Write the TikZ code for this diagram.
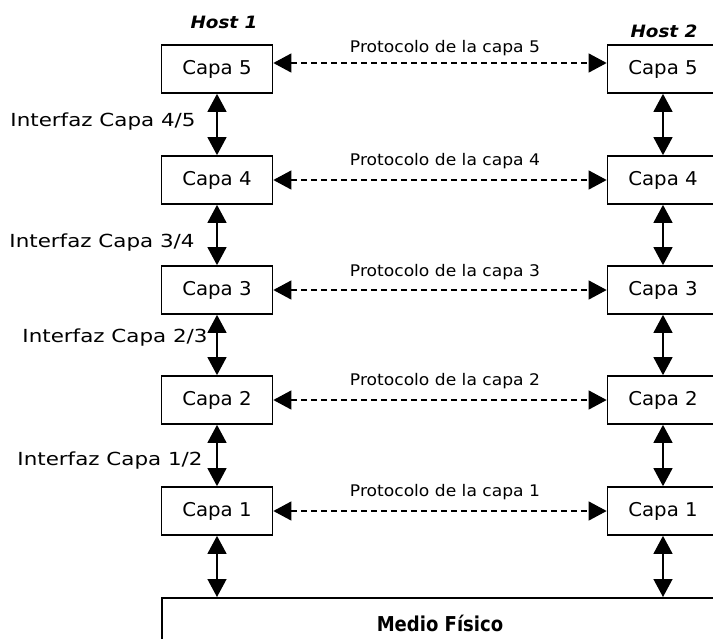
\documentclass[tikz,border=0pt]{standalone}
\usepackage{fontspec}
\setmainfont{DejaVu Sans}
\newfontfamily\capafont{DejaVu Sans}[FakeStretch=1.04]
\newfontfamily\iffont{DejaVu Sans}[FakeStretch=1.19]
\newfontfamily\protofont{DejaVu Sans}[FakeStretch=1.07]
\newfontfamily\medfont{DejaVu Sans}[FakeStretch=0.88]
\newfontfamily\hostfont{DejaVu Sans}[FakeStretch=1.08]
\usetikzlibrary{arrows.meta}
\tikzset{
  layerbox/.style={draw, line width=1.7pt, minimum width=111pt, minimum height=48pt, inner sep=0pt, font=\capafont\fontsize{19}{21}\selectfont},
  bigtip/.tip={Triangle[length=18pt,width=19pt]},
  vlink/.style={line width=1.4pt, bigtip-bigtip},
  hlink/.style={line width=1.3pt, dash pattern=on 6pt off 4pt, bigtip-bigtip},
  protolbl/.style={font=\protofont\fontsize{16}{18}\selectfont, inner sep=0pt},
  iflbl/.style={font=\iffont\fontsize{18}{20}\selectfont, inner sep=0pt},
  hostlbl/.style={font=\hostfont\fontsize{17}{20}\selectfont\bfseries\itshape, inner sep=0pt}
}
\begin{document}
\begin{tikzpicture}[x=1pt,y=-1pt]
\useasboundingbox (0,0) rectangle (713,638);
% hosts
\node[hostlbl] (h1) at (224,22) {Host 1};
\node[hostlbl] (h2) at (664,31) {Host 2};
% left stack
\node[layerbox] (l5) at (217,69) {Capa 5};
\node[layerbox] (l4) at (217,180) {Capa 4};
\node[layerbox] (l3) at (217,290) {Capa 3};
\node[layerbox] (l2) at (217,400) {Capa 2};
\node[layerbox] (l1) at (217,511) {Capa 1};
% right stack
\node[layerbox] (r5) at (663,69) {Capa 5};
\node[layerbox] (r4) at (663,180) {Capa 4};
\node[layerbox] (r3) at (663,290) {Capa 3};
\node[layerbox] (r2) at (663,400) {Capa 2};
\node[layerbox] (r1) at (663,511) {Capa 1};
% physical medium
\node[draw, line width=1.7pt, anchor=north west, minimum width=600pt, minimum height=80pt] (medio) at (161,597) {};
\node[font=\medfont\fontsize{20.5}{22}\selectfont\bfseries, inner sep=0pt] (medtxt) at (440,623) {Medio Físico};
% vertical links
\draw[vlink] (l5) -- (l4);
\draw[vlink] (l4) -- (l3);
\draw[vlink] (l3) -- (l2);
\draw[vlink] (l2) -- (l1);
\draw[vlink] (l1.south) -- (l1.south |- medio.north);
\draw[vlink] (r5) -- (r4);
\draw[vlink] (r4) -- (r3);
\draw[vlink] (r3) -- (r2);
\draw[vlink] (r2) -- (r1);
\draw[vlink] (r1.south) -- (r1.south |- medio.north);
% protocol links
\draw[hlink] ([yshift=6pt]l5.east) -- ([yshift=6pt]r5.west);
\draw[hlink] (l4) -- (r4);
\draw[hlink] (l3) -- (r3);
\draw[hlink] (l2) -- (r2);
\draw[hlink] (l1) -- (r1);
\node[protolbl] (p5) at (445,48) {Protocolo de la capa 5};
\node[protolbl] (p4) at (445,161) {Protocolo de la capa 4};
\node[protolbl] (p3) at (445,272) {Protocolo de la capa 3};
\node[protolbl] (p2) at (445,381) {Protocolo de la capa 2};
\node[protolbl] (p1) at (445,492) {Protocolo de la capa 1};
% interface labels
\node[iflbl] (i45) at (103,122) {Interfaz Capa 4/5};
\node[iflbl] (i34) at (102,243) {Interfaz Capa 3/4};
\node[iflbl] (i23) at (115,338) {Interfaz Capa 2/3};
\node[iflbl] (i12) at (110,461) {Interfaz Capa 1/2};
\end{tikzpicture}
\end{document}
